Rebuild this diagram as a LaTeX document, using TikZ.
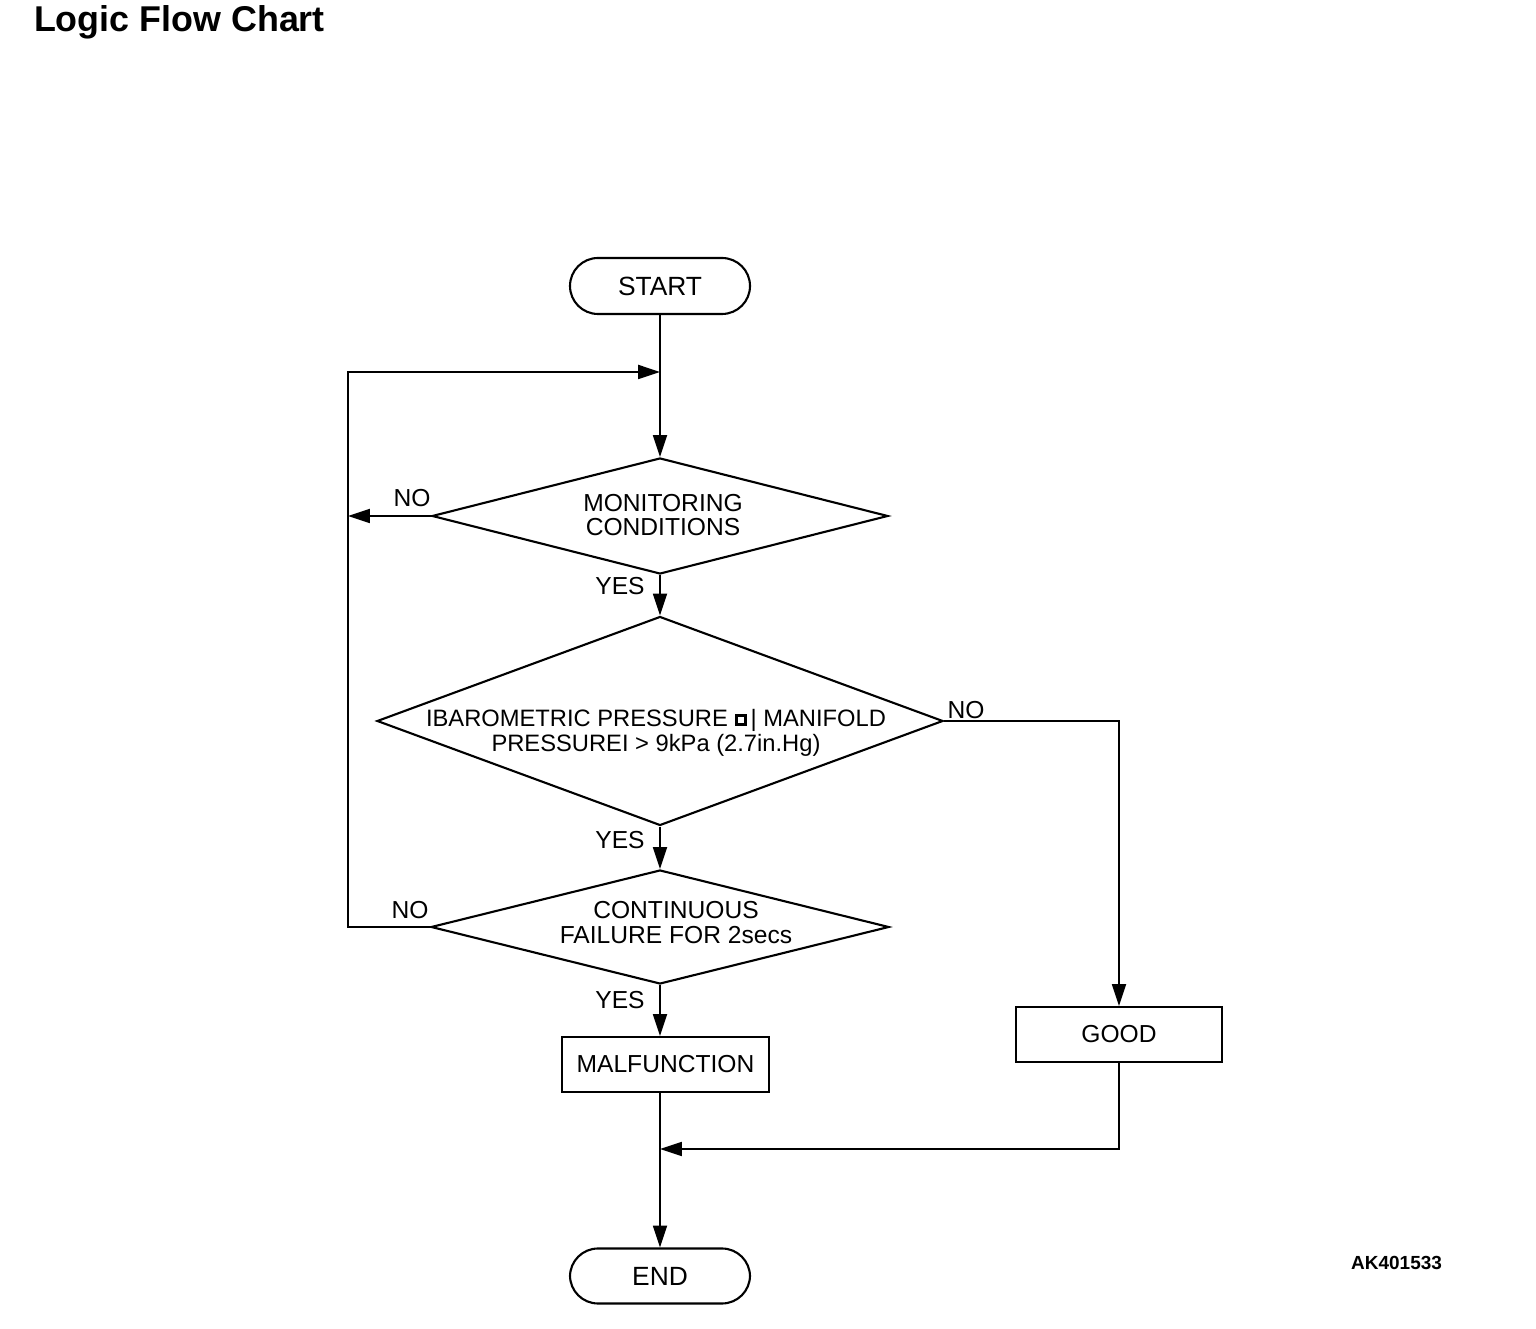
\documentclass[tikz,border=0pt]{standalone}
\usepackage{fontspec}
\setmainfont{Liberation Sans}
\usetikzlibrary{shapes.geometric,arrows.meta}

% small square mark printed in the condition text
\newcommand{\sqmark}{\tikz[baseline=0pt,x=1cm,y=1cm]\draw[line width=0.9pt] (0,0.015) rectangle (0.09,0.105);}

\begin{document}
\begin{tikzpicture}
[font=\fontsize{7pt}{7pt}\selectfont, draw=black, line width=0.6pt,
terminal/.style={rectangle, rounded corners=0.28cm, draw, inner sep=0pt, minimum width=18mm, minimum height=5.6mm, font=\fontsize{7.5pt}{7.5pt}\selectfont},
process/.style={rectangle, draw, inner sep=0pt, minimum width=20.7mm, minimum height=5.5mm},
decision/.style={diamond, draw, inner sep=0pt},
label/.style={inner sep=0pt, align=center},
arr/.style={line width=0.45pt, -{Triangle[length=6.2pt,width=4pt]}}]

\useasboundingbox (0,0) rectangle (15.36,13.28);

\node[anchor=base west, inner sep=0pt, font=\fontsize{10.2pt}{10.2pt}\selectfont\bfseries] (title) at (0.33,12.96) {Logic Flow Chart};

\node[terminal] (start) at (6.60,10.42) {START};
\node[decision, minimum width=45.6mm, minimum height=11.6mm] (monitor) at (6.60,8.12) {};
\node[decision, minimum width=56.6mm, minimum height=20.9mm] (pressure) at (6.60,6.07) {};
\node[decision, minimum width=45.8mm, minimum height=11.4mm] (failure) at (6.60,4.01) {};
\node[process] (malfunction) at (6.655,2.635) {MALFUNCTION};
\node[process, minimum width=20.6mm] (good) at (11.19,2.935) {GOOD};
\node[terminal, minimum height=5.5mm] (end) at (6.60,0.52) {END};

\node[label] (monitortext) at (6.63,8.13) {MONITORING\\CONDITIONS};
\node[label, font=\fontsize{6.75pt}{7.1pt}\selectfont] (pressuretext) at (6.56,5.955) {IBAROMETRIC PRESSURE \sqmark\,| MANIFOLD\\PRESSUREI > 9kPa (2.7in.Hg)};
\node[label] (failuretext) at (6.76,4.055) {CONTINUOUS\\FAILURE FOR 2secs};

\node[label] (no1) at (4.12,8.30) {NO};
\node[label] (yes1) at (6.20,7.42) {YES};
\node[label] (no2) at (9.66,6.18) {NO};
\node[label] (yes2) at (6.20,4.88) {YES};
\node[label] (no3) at (4.10,4.18) {NO};
\node[label] (yes3) at (6.20,3.28) {YES};

\node[anchor=east, inner sep=0pt, font=\fontsize{5.4pt}{5.4pt}\selectfont\bfseries] (code) at (14.43,0.65) {AK401533};

\coordinate (looptop) at (3.48,9.56);
\coordinate (loopjoin) at (6.60,9.56);
\coordinate (goodjoin) at (6.60,1.79);

\draw[arr] (start) -- (monitor.north);
\draw[arr] (monitor.west) -- (monitor.west -| looptop);
\draw[arr] (failure.west) -| (looptop) -- (loopjoin);
\draw[arr] (monitor.south) -- (pressure.north);
\draw[arr] (pressure.south) -- (failure.north);
\draw[arr] (failure.south) -- (failure.south |- malfunction.north);
\draw[arr] (pressure.east) -| (good.north);
\draw[arr] (good.south) |- (goodjoin);
\draw[arr] (failure.south |- malfunction.south) -- (end.north);
\end{tikzpicture}
\end{document}
